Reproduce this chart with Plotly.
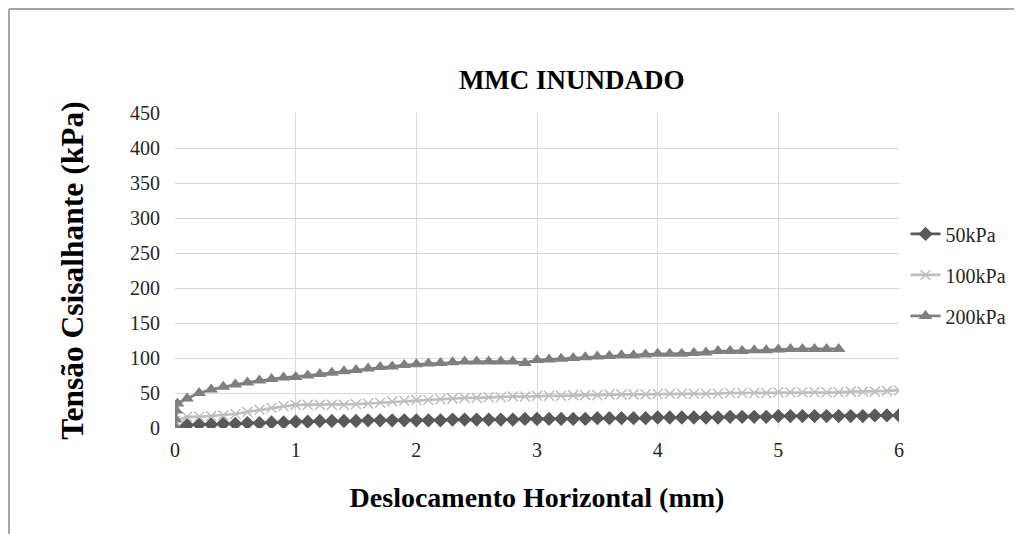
import plotly.graph_objects as go

x_50 = [0.0, 0.1, 0.2, 0.3, 0.4, 0.5, 0.6, 0.7, 0.8, 0.9, 1.0, 1.1, 1.2, 1.3, 1.4, 1.5, 1.6, 1.7, 1.8, 1.9,
        2.0, 2.1, 2.2, 2.3, 2.4, 2.5, 2.6, 2.7, 2.8, 2.9, 3.0, 3.1, 3.2, 3.3, 3.4, 3.5, 3.6, 3.7, 3.8, 3.9,
        4.0, 4.1, 4.2, 4.3, 4.4, 4.5, 4.6, 4.7, 4.8, 4.9, 5.0, 5.1, 5.2, 5.3, 5.4, 5.5, 5.6, 5.7, 5.8, 5.9, 6.0]
y_50 = [1, 4, 5, 5, 6, 6, 7, 7, 8, 8, 9, 9, 10, 10, 10, 10, 11, 11, 11, 11,
        11, 11, 11, 12, 12, 12, 12, 12, 12, 13, 13, 13, 13, 13, 13, 14, 14, 14, 14, 14,
        15, 15, 15, 15, 15, 15, 16, 16, 16, 16, 17, 17, 17, 17, 17, 17, 17, 17, 18, 18, 18]

x_100 = [0.0, 0.1, 0.2, 0.3, 0.4, 0.5, 0.6, 0.7, 0.8, 0.9, 1.0, 1.1, 1.2, 1.3, 1.4, 1.5, 1.6, 1.7, 1.8, 1.9,
         2.0, 2.1, 2.2, 2.3, 2.4, 2.5, 2.6, 2.7, 2.8, 2.9, 3.0, 3.1, 3.2, 3.3, 3.4, 3.5, 3.6, 3.7, 3.8, 3.9,
         4.0, 4.1, 4.2, 4.3, 4.4, 4.5, 4.6, 4.7, 4.8, 4.9, 5.0, 5.1, 5.2, 5.3, 5.4, 5.5, 5.6, 5.7, 5.8, 5.9, 6.0]
y_100 = [10, 16, 16, 17, 18, 20, 23, 26, 29, 31, 33, 33, 33, 33, 33, 34, 35, 36, 38, 39,
         40, 40, 41, 42, 43, 43, 44, 44, 45, 45, 46, 46, 46, 47, 47, 47, 48, 48, 48, 48,
         49, 49, 49, 49, 49, 49, 50, 50, 50, 50, 51, 51, 51, 51, 51, 51, 52, 52, 52, 53, 54]

x_200 = [0.0, 0.005, 0.01, 0.02, 0.1, 0.2, 0.3, 0.4, 0.5, 0.6, 0.7, 0.8, 0.9, 1.0, 1.1, 1.2, 1.3, 1.4, 1.5,
         1.6, 1.7, 1.8, 1.9, 2.0, 2.1, 2.2, 2.3, 2.4, 2.5, 2.6, 2.7, 2.8, 2.9, 3.0, 3.1, 3.2, 3.3, 3.4,
         3.5, 3.6, 3.7, 3.8, 3.9, 4.0, 4.1, 4.2, 4.3, 4.4, 4.5, 4.6, 4.7, 4.8, 4.9, 5.0, 5.1, 5.2, 5.3,
         5.4, 5.5]
y_200 = [0, 12, 25, 35, 42, 50, 55, 59, 62, 65, 68, 70, 72, 73, 75, 77, 79, 81, 83,
         85, 87, 88, 90, 91, 92, 93, 94, 95, 95, 95, 95, 95, 93, 97, 98, 99, 100, 101,
         102, 103, 104, 104, 105, 106, 106, 106, 107, 108, 110, 110, 110, 111, 111, 112, 113, 113, 113,
         113, 113]

x_ticks = [0, 1, 2, 3, 4, 5, 6]
y_ticks = [0, 50, 100, 150, 200, 250, 300, 350, 400, 450]

FONT = "Liberation Serif"

fig = go.Figure()
fig.add_trace(go.Scatter(x=x_50, y=y_50, name="50kPa", mode="lines+markers", legendgroup="a",
                         line=dict(color="#595959", width=2.75),
                         marker=dict(symbol="diamond", size=11, color="#595959")))
fig.add_trace(go.Scatter(x=x_100, y=y_100, name="100kPa", mode="lines+markers", legendgroup="b",
                         line=dict(color="#BFBFBF", width=2.75),
                         marker=dict(symbol="x-thin", size=10, color="#BFBFBF",
                                     line=dict(color="#BFBFBF", width=1.5))))
fig.add_trace(go.Scatter(x=x_200, y=y_200, name="200kPa", mode="lines+markers", legendgroup="c",
                         line=dict(color="#7F7F7F", width=2.75),
                         marker=dict(symbol="triangle-up", size=12, color="#7F7F7F")))

fig.update_layout(
    width=1022, height=534,
    margin=dict(l=167, r=131, t=105, b=114),
    paper_bgcolor="white", plot_bgcolor="white",
    font=dict(family=FONT, color="#262626", size=20),
    title=dict(text="<b>MMC INUNDADO</b>", x=0.548, xref="paper", xanchor="center",
               y=1 - 72 / 534, yanchor="middle", yref="container",
               font=dict(family=FONT, size=27, color="black")),
    xaxis=dict(range=[0, 6], tickvals=x_ticks, showgrid=True, gridcolor="#D9D9D9", gridwidth=1,
               zeroline=False, showline=False, ticks="", ticklabelstandoff=8,
               tickfont=dict(family=FONT, size=20, color="#262626"),
               title=dict(text="<b>Deslocamento Horizontal (mm)</b>", standoff=27,
                          font=dict(family=FONT, size=28, color="black"))),
    yaxis=dict(range=[0, 450], tickvals=y_ticks, showgrid=True, gridcolor="#D9D9D9", gridwidth=1,
               zeroline=False, showline=False, ticks="", ticklabelstandoff=14,
               tickfont=dict(family=FONT, size=20, color="#262626"),
               title=dict(text="<b>Tensão Csisalhante (kPa)</b>", standoff=36,
                          font=dict(family=FONT, size=31.5, color="black"))),
    legend=dict(x=1.009, y=0.486, xanchor="left", yanchor="middle",
                font=dict(family=FONT, size=20, color="#262626"),
                tracegroupgap=12, bgcolor="rgba(0,0,0,0)"),
    shapes=[
        dict(type="line", xref="paper", yref="paper", x0=-0.2293, x1=1.3, y0=1.330, y1=1.330,
             line=dict(color="#A6A6A6", width=2)),
        dict(type="line", xref="paper", yref="paper", x0=-0.2293, x1=-0.2293, y0=1.330, y1=-0.4,
             line=dict(color="#A6A6A6", width=2)),
    ],
)

fig.write_html("out.html")
